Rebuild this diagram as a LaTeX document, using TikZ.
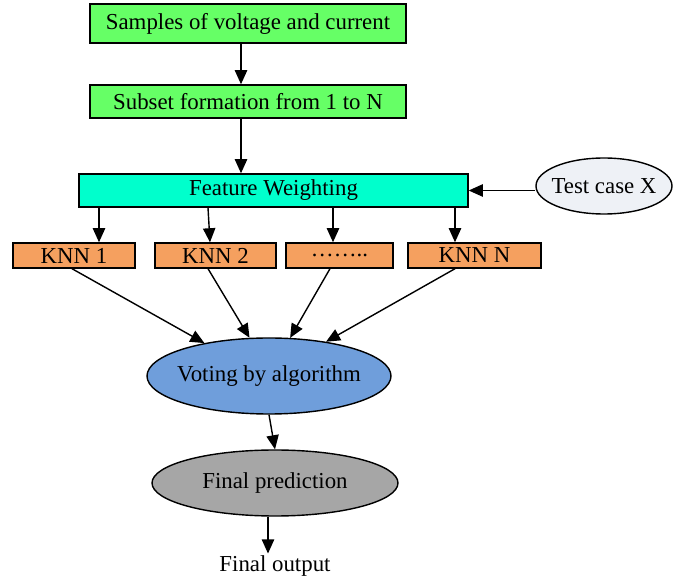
\documentclass[tikz,border=0pt]{standalone}
\usepackage{fontspec}
\setmainfont{Liberation Serif}
\definecolor{boxgreen}{RGB}{102,255,102}
\definecolor{boxcyan}{RGB}{0,255,204}
\definecolor{knnorange}{RGB}{245,160,95}
\definecolor{voteblue}{RGB}{111,158,219}
\definecolor{predgray}{RGB}{166,166,166}
\definecolor{testgray}{RGB}{238,241,246}
\usetikzlibrary{arrows.meta,positioning,shapes.geometric}

\begin{document}
\begin{tikzpicture}[
  box/.style={draw,thick,minimum height=0.66cm,font=\fontsize{13}{15}\selectfont,inner sep=0pt},
  knn/.style={box,fill=knnorange,minimum height=0.5cm},
  oval/.style={ellipse,draw,thick,font=\fontsize{13}{15}\selectfont,inner xsep=-0.2cm,inner ysep=0pt},
  arr/.style={-{Triangle[length=8pt,width=7pt]},thick}
]
  \useasboundingbox (0,0) rectangle (13.7,-11.58);
  % Input boxes
  \node[box,fill=boxgreen,minimum width=6.32cm,minimum height=0.78cm] (samp) at (4.96,-0.47) {Samples of voltage and current};
  \node[box,fill=boxgreen,minimum width=6.32cm] (subs) at (4.96,-2.03) {Subset formation from 1 to N};
  \node[box,fill=boxcyan,minimum width=7.78cm] (fw) at (5.47,-3.81) {Feature Weighting};
  \node[oval,fill=testgray,minimum width=2.72cm,minimum height=1.12cm] (tc) at (12.08,-3.72) {Test case X};
  % KNN classifiers
  \node[knn,minimum width=2.44cm] (k1) at (1.48,-5.11) {KNN 1};
  \node[knn,minimum width=2.42cm] (k2) at (4.31,-5.11) {KNN 2};
  \node[knn,minimum width=2.14cm] (kd) at (6.79,-5.11) {\dots\dots..};
  \node[knn,minimum width=2.66cm] (kn) at (9.49,-5.11) {KNN N};
  % Voting and output
  \node[oval,fill=voteblue,minimum width=4.88cm,minimum height=1.52cm] (vote) at (5.38,-7.52) {Voting by algorithm};
  \node[oval,fill=predgray,minimum width=4.92cm,minimum height=1.32cm] (pred) at (5.5,-9.66) {Final prediction};
  \node[font=\fontsize{13}{15}\selectfont,inner sep=1pt] (out) at (5.5,-11.32) {Final output};
  % Arrows
  \draw[arr] (samp.south -| 4.82,0) -- (subs.north -| 4.82,0);
  \draw[arr] (subs.south -| 4.82,0) -- (fw.north -| 4.82,0);
  \draw[arr] (tc.west |- fw.east) -- (fw.east);
  \draw[arr] ([xshift=0.5cm]k1.north |- fw.south) -- ([xshift=0.5cm]k1.north);
  \draw[arr] ([xshift=-0.15cm]k2.north |- fw.south) -- ([xshift=-0.11cm]k2.north);
  \draw[arr] ([xshift=-0.13cm]kd.north |- fw.south) -- ([xshift=-0.13cm]kd.north);
  \draw[arr] ([xshift=-0.39cm]kn.north |- fw.south) -- ([xshift=-0.39cm]kn.north);
  \draw[arr] ([xshift=-0.04cm]k1.south) -- (vote.153);
  \draw[arr] ([xshift=-0.15cm]k2.south) -- (vote.117);
  \draw[arr] ([xshift=-0.19cm]kd.south) -- (vote.61);
  \draw[arr] ([xshift=-0.39cm]kn.south) -- (vote.31);
  \draw[arr] (vote.south) -- (pred.north);
  \draw[arr] (pred.south -| 5.36,0) -- (out.north -| 5.36,0);
\end{tikzpicture}
\end{document}
